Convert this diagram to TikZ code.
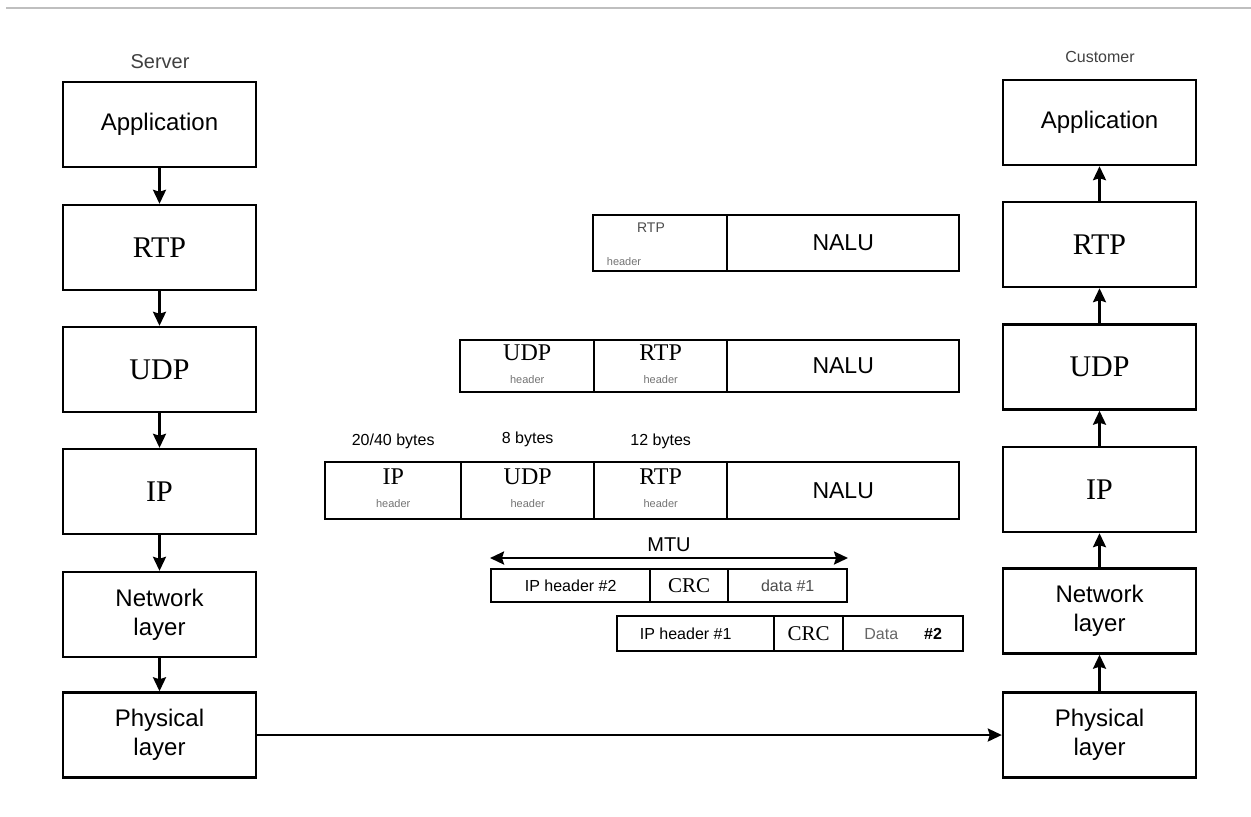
\documentclass[tikz,border=0pt]{standalone}
\usepackage{fontspec}
\setmainfont{Liberation Serif}
\setsansfont{Liberation Sans}
\usetikzlibrary{positioning,arrows.meta}
\tikzset{
  layer/.style={draw,minimum width=96.5pt,minimum height=42.5pt,inner sep=0pt,align=center},
  sanstxt/.style={font=\fontsize{12}{14.5}\selectfont\sffamily},
  seriftxt/.style={font=\fontsize{15}{17}\selectfont\rmfamily},
  cell/.style={draw,inner sep=0pt,align=center,font=\fontsize{11.5}{13}\selectfont\sffamily},
  proto/.style={font=\fontsize{12}{14}\selectfont\rmfamily,inner sep=0pt},
  hdr/.style={font=\fontsize{5.5}{6}\selectfont\sffamily,text=black!55,inner sep=0pt},
  smalltxt/.style={font=\fontsize{8}{9.5}\selectfont\sffamily,inner sep=0pt},
}
\newcommand{\layerbox}[5]{% x, y, name, font style, text   (protocol layer)
  \node[layer,#4] (#3) at (#1,#2) {#5};}
\newcommand{\pcell}[6]{% x1, x2, y, height, name, text   (one packet field)
  \node[cell,minimum width={(#2-#1)*0.5pt},minimum height={#4*0.5pt},anchor=west] (#5) at (#1,#3) {#6};}
\newcommand{\hdrcell}[6]{% x1, x2, y, height, name, protocol   (header field)
  \pcell{#1}{#2}{#3}{#4}{#5}{}
  \node[proto] (#5p) at ([yshift=6.75pt]#5.center) {#6};
  \node[hdr] (#5h) at ([yshift=-6.75pt]#5.center) {header};}

\begin{document}
\begin{tikzpicture}[x=0.5pt,y=-0.5pt,line width=1.2pt,>={Stealth[length=7pt,width=6.5pt,inset=1pt]}]
  \useasboundingbox (0,0) rectangle (1251,816);
  \draw[black!25,line width=1pt] (6,8) -- (1251,8);
  % server stack
  \node[font=\fontsize{10}{12}\selectfont\sffamily,text=black!75] (srv) at (160,62) {Server};
  \layerbox{159.5}{124.5}{sapp}{sanstxt}{Application}
  \layerbox{159.5}{247.5}{srtp}{seriftxt}{RTP}
  \layerbox{159.5}{369.5}{sudp}{seriftxt}{UDP}
  \layerbox{159.5}{491.5}{sip}{seriftxt}{IP}
  \layerbox{159.5}{614.5}{snet}{sanstxt}{Network\\layer}
  \layerbox{159.5}{735}{sphy}{sanstxt}{Physical\\layer}
  \foreach \a/\b in {sapp/srtp,srtp/sudp,sudp/sip,sip/snet,snet/sphy}
    \draw[->] (\a) -- (\b);
  % customer stack
  \node[font=\fontsize{8}{10}\selectfont\sffamily,text=black!75] (cst) at (1100,57) {Customer};
  \layerbox{1099.5}{122.5}{capp}{sanstxt}{Application}
  \layerbox{1099.5}{244.5}{crtp}{seriftxt}{RTP}
  \layerbox{1099.5}{367}{cudp}{seriftxt}{UDP}
  \layerbox{1099.5}{489.5}{cip}{seriftxt}{IP}
  \layerbox{1099.5}{611}{cnet}{sanstxt}{Network\\layer}
  \layerbox{1099.5}{735}{cphy}{sanstxt}{Physical\\layer}
  \foreach \a/\b in {cphy/cnet,cnet/cip,cip/cudp,cudp/crtp,crtp/capp}
    \draw[->] (\a) -- (\b);
  \draw[->] (sphy.east) -- (cphy.west);
  % RTP packet
  \pcell{592}{726}{243}{56}{rtp1}{}
  \node[font=\fontsize{7}{8}\selectfont\sffamily,text=black!70,inner sep=0pt] (rtp1p) at (651,228) {RTP};
  \node[hdr] (rtp1h) at (624,262) {header};
  \pcell{726}{958}{243}{56}{nalu1}{NALU}
  % UDP packet
  \hdrcell{459}{593}{366}{52}{udp2}{UDP}
  \hdrcell{593}{726}{366}{52}{rtp2}{RTP}
  \pcell{726}{958}{366}{52}{nalu2}{NALU}
  % IP packet
  \hdrcell{324}{460}{490.5}{57}{ip3}{IP}
  \hdrcell{460}{593}{490.5}{57}{udp3}{UDP}
  \hdrcell{593}{726}{490.5}{57}{rtp3}{RTP}
  \pcell{726}{958}{490.5}{57}{nalu3}{NALU}
  \node[smalltxt,above=5.5pt of ip3] (b1) {20/40 bytes};
  \node[smalltxt,above=6.5pt of udp3] (b2) {8 bytes};
  \node[smalltxt,above=5.5pt of rtp3] (b3) {12 bytes};
  % fragments
  \coordinate (mtul) at (490,558);
  \coordinate (mtur) at (848,558);
  \draw[<->] (mtul) -- (mtur) node[midway,above=2.5pt,inner sep=0pt,font=\fontsize{10}{12}\selectfont\sffamily] (mtu) {MTU};
  \pcell{490}{649}{585.5}{33}{iph2}{\fontsize{8}{9.5}\selectfont IP header \#2}
  \pcell{649}{727}{585.5}{33}{crc2}{\rmfamily\fontsize{10.5}{12}\selectfont CRC}
  \pcell{727}{846}{585.5}{33}{dat1}{\fontsize{8}{9.5}\selectfont\color{black!70}data \#1}
  \pcell{616}{773}{633.5}{35}{iph1}{\fontsize{8}{9.5}\selectfont IP header \#1\hspace{10pt}}
  \pcell{773}{842}{633.5}{35}{crc1}{\rmfamily\fontsize{10.5}{12}\selectfont CRC}
  \pcell{842}{962}{633.5}{35}{dat2}{\fontsize{8}{9.5}\selectfont{\color{black!60}Data}\hspace{13pt}\textbf{\#2}}
\end{tikzpicture}
\end{document}
